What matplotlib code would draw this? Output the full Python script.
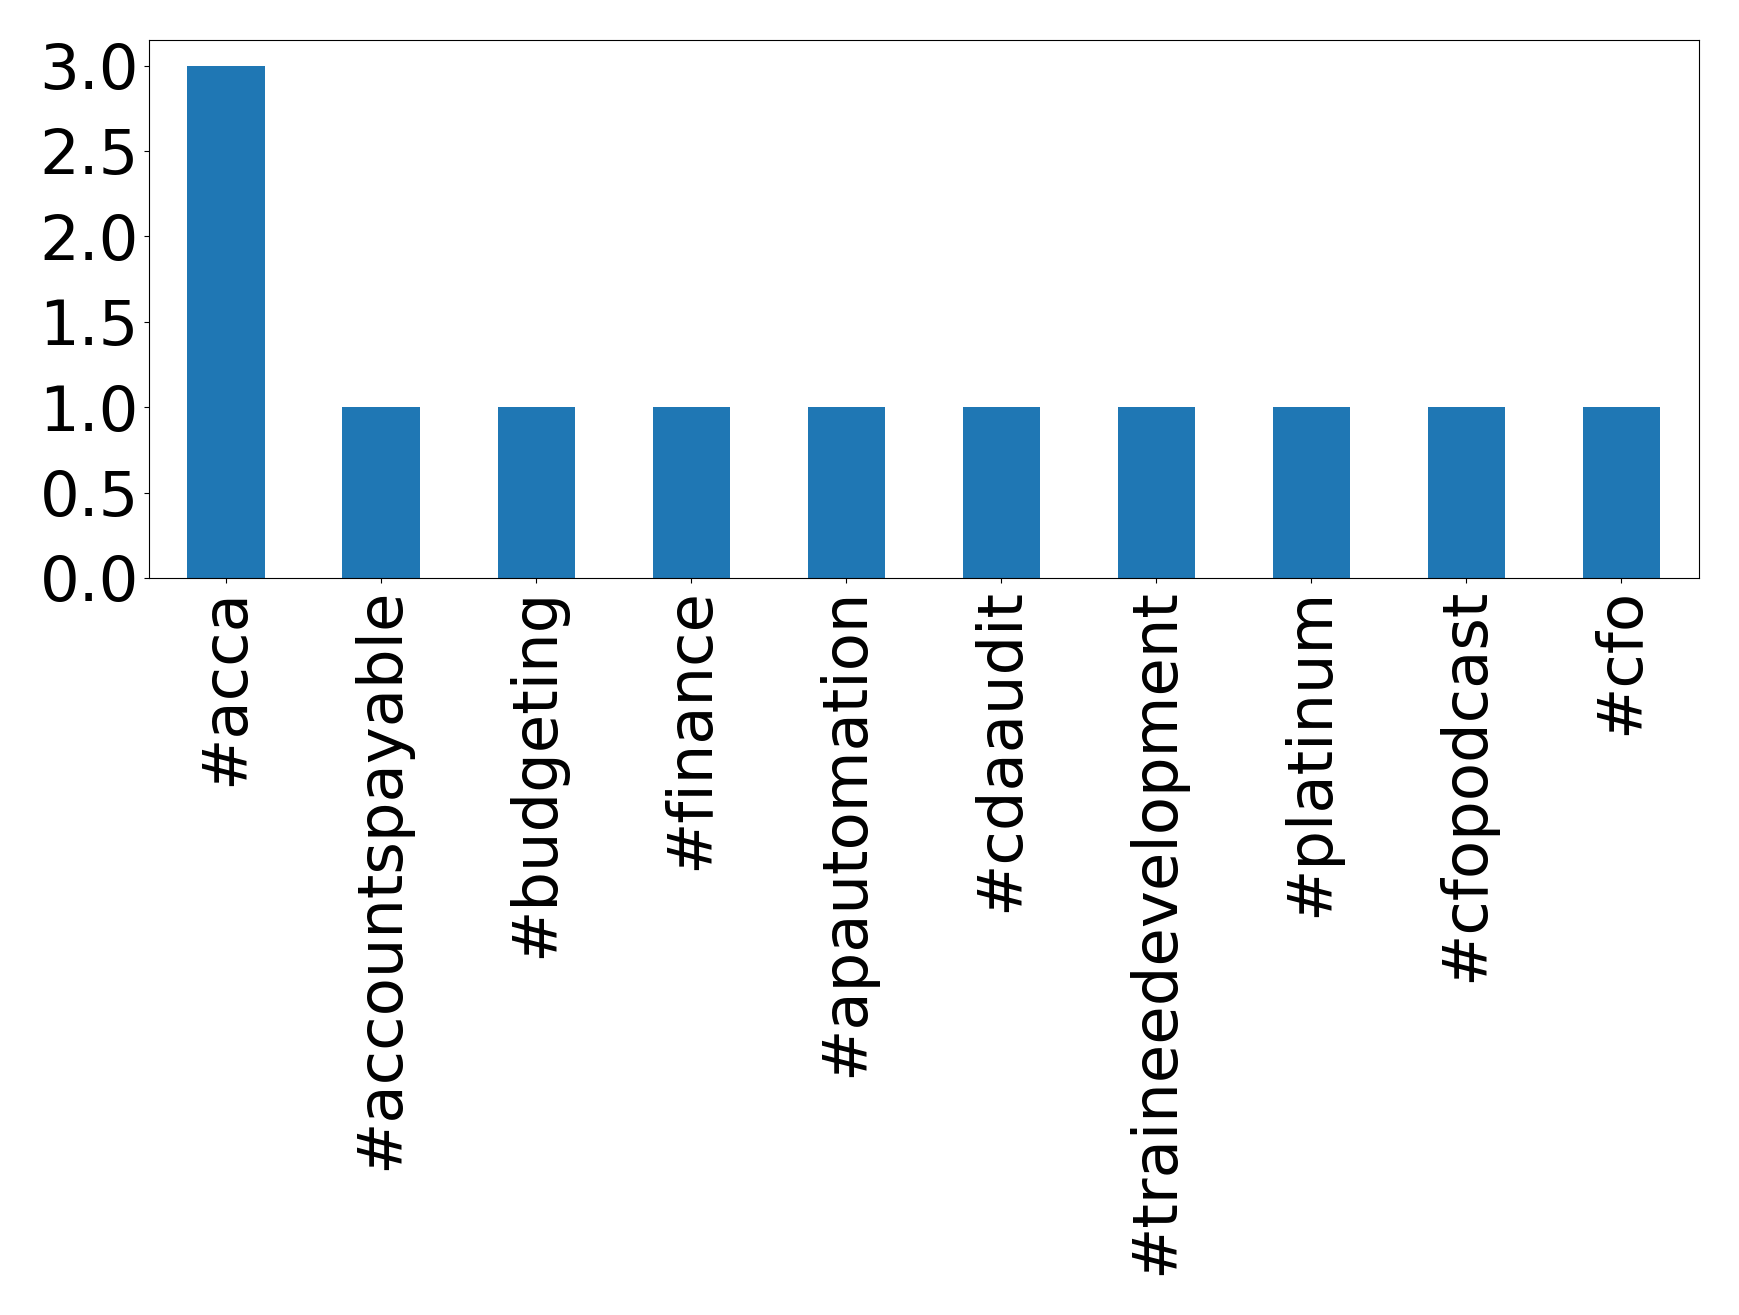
import matplotlib
matplotlib.use("Agg")
import matplotlib.pyplot as plt

categories = ["#acca", "#accountspayable", "#budgeting", "#finance", "#apautomation",
              "#cdaaudit", "#traineedevelopment", "#platinum", "#cfopodcast", "#cfo"]
values = [3, 1, 1, 1, 1, 1, 1, 1, 1, 1]

fig = plt.figure(figsize=(17.39, 13.15), dpi=100)
ax = fig.add_axes([0.0855, 0.5605, 0.977 - 0.0855, 0.9696 - 0.5605])
x = list(range(len(categories)))
ax.bar(x, values, width=0.5, color="#1f77b4")
ax.set_xlim(-0.5, len(categories) - 0.5)
ax.set_xticks(x)
ax.set_xticklabels(categories, rotation=90, fontsize=45)
ax.set_yticks([0.0, 0.5, 1.0, 1.5, 2.0, 2.5, 3.0])
ax.set_yticklabels(["0.0", "0.5", "1.0", "1.5", "2.0", "2.5", "3.0"], fontsize=45)
ax.set_ylim(0, 3.15)
fig.savefig("out.png", dpi=100)
